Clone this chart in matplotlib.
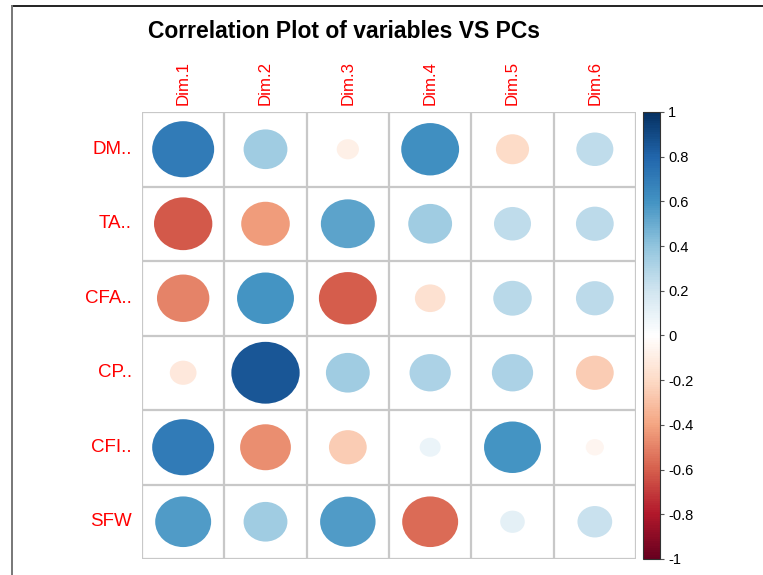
"""
Correlation plot of variables against principal components (circle style)
"""

import numpy as np
import matplotlib.pyplot as plt
from matplotlib.colors import LinearSegmentedColormap, Normalize
from matplotlib.cm import ScalarMappable
from matplotlib.patches import Ellipse
from matplotlib.lines import Line2D

plt.rcParams['font.family'] = ['Liberation Sans', 'DejaVu Sans']

# ============================================================================
# DATA
# ============================================================================

variables = ['DM..', 'TA..', 'CFA..', 'CP..', 'CFI..', 'SFW']
dims = ['Dim.1', 'Dim.2', 'Dim.3', 'Dim.4', 'Dim.5', 'Dim.6']

dm = [0.70, 0.35, -0.09, 0.61, -0.20, 0.25]
ta = [-0.62, -0.43, 0.53, 0.35, 0.25, 0.26]
cfa = [-0.50, 0.59, -0.61, -0.17, 0.27, 0.26]
cp = [-0.13, 0.85, 0.35, 0.31, 0.31, -0.26]
cfi = [0.70, -0.47, -0.26, 0.08, 0.59, -0.06]
sfw = [0.57, 0.35, 0.56, -0.57, 0.11, 0.22]

corr = np.array([dm, ta, cfa, cp, cfi, sfw])

cbar_ticks = [-1, -0.8, -0.6, -0.4, -0.2, 0, 0.2, 0.4, 0.6, 0.8, 1]

# corrplot RdBu palette
rdbu = ["#67001F", "#B2182B", "#D6604D", "#F4A582", "#FDDBC7", "#FFFFFF",
        "#D1E5F0", "#92C5DE", "#4393C3", "#2166AC", "#053061"]
cmap = LinearSegmentedColormap.from_list('corr_rdbu', rdbu, N=200)
norm = Normalize(vmin=-1, vmax=1)

# ============================================================================
# PLOT
# ============================================================================

W, H = 763, 575
fig = plt.figure(figsize=(W / 100, H / 100), dpi=100)

# grid area in pixels
gx0, gx1, gy0, gy1 = 142, 636, 112, 559
ax = fig.add_axes([gx0 / W, 1 - gy1 / H, (gx1 - gx0) / W, (gy1 - gy0) / H])
n_rows, n_cols = corr.shape
ax.set_xlim(0.5, n_cols + 0.5)
ax.set_ylim(0.5, n_rows + 0.5)
ax.axis('off')

grid_col = '#c8c8c8'
for k in range(n_cols + 1):
    ax.plot([k + 0.5, k + 0.5], [0.5, n_rows + 0.5], color=grid_col, lw=1.6,
            solid_capstyle='butt', zorder=1)
for k in range(n_rows + 1):
    ax.plot([0.5, n_cols + 0.5], [k + 0.5, k + 0.5], color=grid_col, lw=1.6,
            solid_capstyle='butt', zorder=1)

# circles: area proportional to |r|
for i in range(n_rows):
    for j in range(n_cols):
        r = corr[i, j]
        d = 0.9 * np.sqrt(abs(r))
        ax.add_patch(Ellipse((j + 1, n_rows - i), d, d, facecolor=cmap(norm(r)),
                             edgecolor='none', zorder=2))

# row labels
for i, name in enumerate(variables):
    ax.text(0.38, n_rows - i, name, color='red', fontsize=13.5,
            ha='right', va='center', clip_on=False)

# column labels
for j, name in enumerate(dims):
    ax.text(j + 1, n_rows + 0.59, name, color='red', fontsize=12.2,
            rotation=90, ha='center', va='bottom', clip_on=False)

fig.text(344 / W, 1 - 31 / H, 'Correlation Plot of variables VS PCs',
         fontsize=16.5, fontweight='bold', ha='center', va='center')

# colour legend
cx0, cx1 = 643, 660
cax = fig.add_axes([cx0 / W, 1 - gy1 / H, (cx1 - cx0) / W, (gy1 - gy0) / H])
cb = fig.colorbar(ScalarMappable(norm=norm, cmap=cmap), cax=cax, ticks=cbar_ticks)
cb.outline.set_edgecolor('#333333')
cb.outline.set_linewidth(0.8)
cax.set_yticklabels([f'{t:g}' for t in cbar_ticks])
cax.tick_params(axis='y', length=3, width=0.8, color='#555555', labelsize=10.5,
                pad=3)

# outer frame
fig.add_artist(Line2D([12 / W, 1], [1 - 6 / H, 1 - 6 / H], color='#222222', lw=1.4))
fig.add_artist(Line2D([12 / W, 12 / W], [0, 1 - 6 / H], color='#777777', lw=1.4))

plt.savefig('out.png', dpi=100)
plt.close()
